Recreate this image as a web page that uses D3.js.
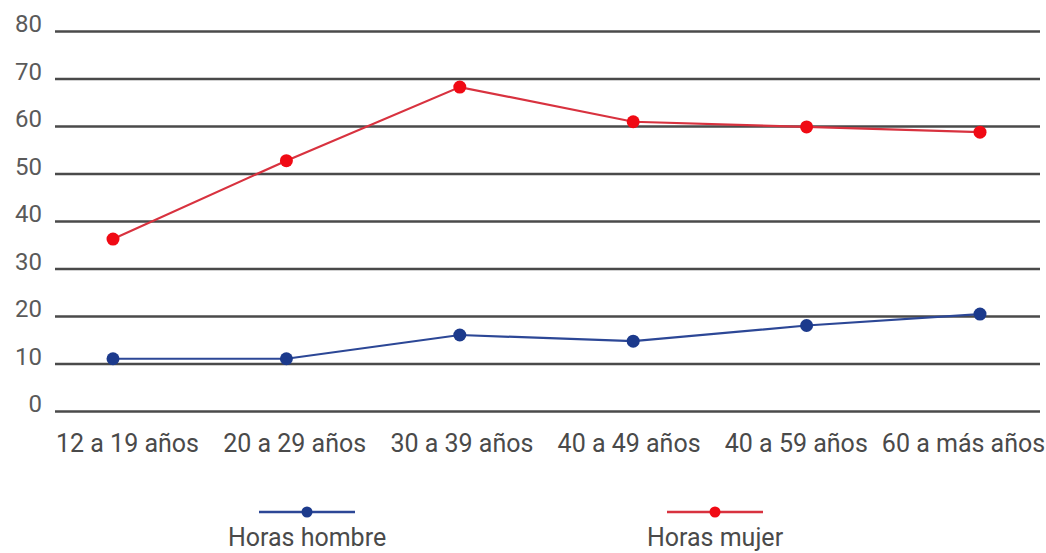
<!DOCTYPE html>
<html>
<head>
<meta charset="utf-8">
<script src="https://cdn.jsdelivr.net/npm/d3@7"></script>
<style>
  html, body { margin: 0; padding: 0; background: #fff; }
  svg { display: block; font-family: Roboto, "Noto Sans", sans-serif; }
</style>
</head>
<body>
<svg id="chart" width="1046" height="553"></svg>
<script>
// Age groups and weekly hours by sex
const categories = ["12 a 19 años", "20 a 29 años", "30 a 39 años", "40 a 49 años", "40 a 59 años", "60 a más años"];
const horasHombre = [11, 11, 16, 14.7, 18, 20.4];
const horasMujer = [36.2, 52.7, 68.2, 60.9, 59.8, 58.7];
const yTicks = [0, 10, 20, 30, 40, 50, 60, 70, 80];
const seriesNames = ["Horas hombre", "Horas mujer"];

const svg = d3.select("#chart");

const gridLeft = 55, gridRight = 1040;
const y = d3.scaleLinear().domain([0, 80]).range([411, 31]);
// markers and category labels sit on slightly different spreads
const x = d3.scalePoint().domain(categories).range([113, 980]);
const xLabel = d3.scalePoint().domain(categories).range([127, 963]);

const series = [
  { name: seriesNames[0], values: horasHombre, line: "#2c4796", dot: "#1c3a8c" },
  { name: seriesNames[1], values: horasMujer, line: "#d8323f", dot: "#f00a14" }
];

// Horizontal gridlines with labels on the left
const yAxis = d3.axisLeft(y).tickValues(yTicks).tickSize(0).tickPadding(13);
const gy = svg.append("g").attr("transform", `translate(${gridLeft},0)`).call(yAxis);
gy.select(".domain").remove();
gy.selectAll(".tick line")
  .attr("x1", 0).attr("x2", gridRight - gridLeft)
  .attr("stroke", "#4a4a4a").attr("stroke-width", 2.4);
gy.selectAll(".tick text")
  .attr("x", -13).attr("dy", "0.04em")
  .attr("fill", "#5a5a5a").attr("font-size", 24)
  .attr("font-family", "Roboto, sans-serif");

// Category labels along the bottom
const xAxis = d3.axisBottom(xLabel).tickSize(0).tickPadding(0);
const gx = svg.append("g").attr("transform", "translate(0,452)").call(xAxis);
gx.select(".domain").remove();
gx.selectAll(".tick text")
  .attr("fill", "#4a4a4a").attr("font-size", 25)
  .attr("font-family", "Roboto, sans-serif")
  .attr("dy", "0");

// Lines and markers
const line = d3.line().x((d, i) => x(categories[i])).y(d => y(d));
series.forEach(s => {
  svg.append("path")
    .attr("d", line(s.values))
    .attr("fill", "none")
    .attr("stroke", s.line)
    .attr("stroke-width", 2.2);
  svg.append("g").selectAll("circle")
    .data(s.values)
    .join("circle")
    .attr("cx", (d, i) => x(categories[i]))
    .attr("cy", d => y(d))
    .attr("r", 6.5)
    .attr("fill", s.dot);
});

// Legend
const legendX = [307, 715];
series.forEach((s, i) => {
  const g = svg.append("g").attr("transform", `translate(${legendX[i]},0)`);
  g.append("line")
    .attr("x1", -48).attr("x2", 48).attr("y1", 512).attr("y2", 512)
    .attr("stroke", s.line).attr("stroke-width", 2.5);
  g.append("circle").attr("cx", 0).attr("cy", 512).attr("r", 5.5).attr("fill", s.dot);
  g.append("text")
    .attr("x", 0).attr("y", 546)
    .attr("text-anchor", "middle")
    .attr("fill", "#4a4a4a").attr("font-size", 25)
    .text(s.name);
});
</script>
</body>
</html>
